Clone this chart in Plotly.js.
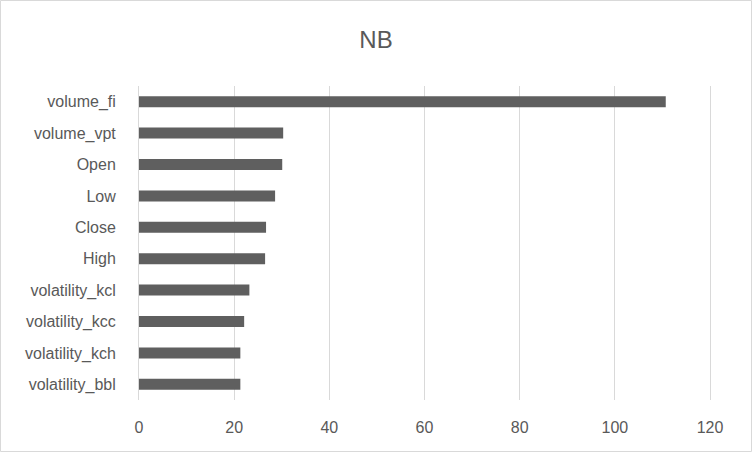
<!DOCTYPE html>
<html>
<head>
<meta charset="utf-8">
<script src="https://cdn.plot.ly/plotly-3.0.1.min.js"></script>
<style>
  body { margin: 0; background: #fff; }
  #chart { width: 752px; height: 452px; }
</style>
</head>
<body>
<div id="chart"></div>
<script>
// Feature names, listed top to bottom as in the picture
var features = ['volume_fi', 'volume_vpt', 'Open', 'Low', 'Close', 'High',
  'volatility_kcl', 'volatility_kcc', 'volatility_kch', 'volatility_bbl'];
var scores = [110.7, 30.3, 30.1, 28.6, 26.7, 26.5, 23.2, 22.1, 21.3, 21.3];
var xTicks = [0, 20, 40, 60, 80, 100, 120];

var textColor = '#595959';
var gridColor = '#d9d9d9';

// plot area size in pixels, used to put the outer frame round the whole chart
var W = 752, H = 452;
var m = { l: 139, r: 42, t: 86, b: 52 };
var pw = W - m.l - m.r;
var ph = H - m.t - m.b;

var trace = {
  type: 'bar',
  orientation: 'h',
  x: scores,
  y: features,
  marker: { color: '#5f5f5f' },
  hoverinfo: 'x+y'
};

var layout = {
  width: W,
  height: H,
  margin: m,
  paper_bgcolor: '#ffffff',
  plot_bgcolor: '#ffffff',
  font: { family: 'Liberation Sans, Arial, sans-serif', size: 16, color: textColor },
  title: {
    text: 'NB',
    font: { size: 24, color: textColor },
    x: 0.5,
    xanchor: 'center',
    xref: 'container',
    yref: 'container',
    y: 1 - 40 / H,
    yanchor: 'middle'
  },
  bargap: 0.65,
  showlegend: false,
  xaxis: {
    range: [0, 120],
    tickvals: xTicks,
    ticktext: xTicks.map(String),
    showgrid: true,
    gridcolor: gridColor,
    gridwidth: 1,
    zeroline: false,
    showline: false,
    ticks: '',
    ticklabelstandoff: 16,
    fixedrange: true
  },
  yaxis: {
    type: 'category',
    autorange: 'reversed',
    showgrid: false,
    zeroline: false,
    showline: true,
    mirror: true,
    linecolor: gridColor,
    linewidth: 1,
    ticks: '',
    ticklabelstandoff: 19,
    fixedrange: true
  },
  shapes: [{
    type: 'rect',
    xref: 'paper',
    yref: 'paper',
    x0: (0.5 - m.l) / pw,
    x1: (W - 0.5 - m.l) / pw,
    y0: -(m.b - 0.5) / ph,
    y1: 1 + (m.t - 0.5) / ph,
    line: { color: gridColor, width: 1 },
    fillcolor: 'rgba(0,0,0,0)'
  }]
};

Plotly.newPlot('chart', [trace], layout, { displayModeBar: false, staticPlot: true });
</script>
</body>
</html>
